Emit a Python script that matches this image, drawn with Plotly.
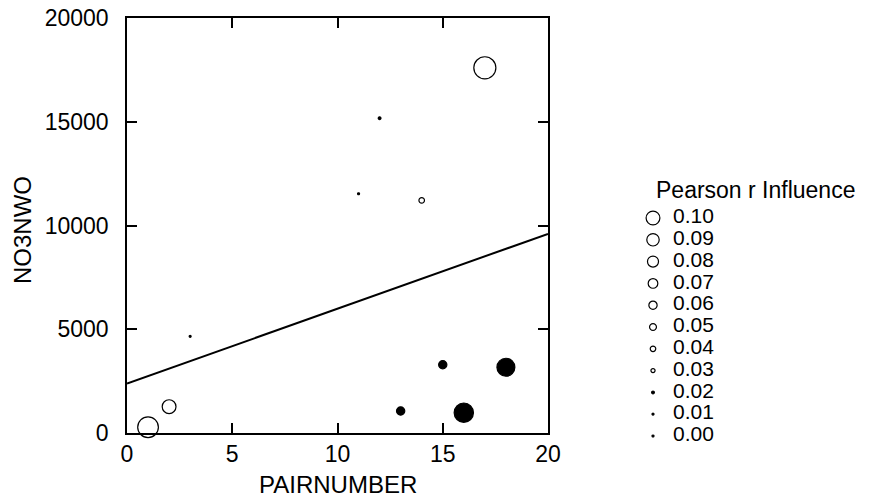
import numpy as np
import plotly.graph_objects as go

# Observations: pair number vs NO3NWO, with each point's influence on Pearson r
pair_number = [1, 2, 3, 11, 12, 13, 14, 15, 16, 17, 18]
no3nwo = [280, 1270, 4660, 11530, 15170, 1060, 11210, 3290, 980, 17600, 3170]
influence = [0.15, 0.10, -0.01, 0.01, 0.02, -0.06, 0.04, -0.06, -0.14, 0.16, -0.13]

# Legend scale for influence magnitude
legend_values = [0.10, 0.09, 0.08, 0.07, 0.06, 0.05, 0.04, 0.03, 0.02, 0.01, 0.00]

x_ticks = [0, 5, 10, 15, 20]
y_ticks = [0, 5000, 10000, 15000, 20000]

W, H = 873, 500
FONT = "Liberation Sans, Arial, sans-serif"
SCALE = 138.0  # marker diameter (px) per unit of |influence|


def marker_style(values):
    symbols, sizes = [], []
    for v in values:
        mag = abs(v)
        if mag < 0.025:
            symbols.append("circle")
        elif v > 0:
            symbols.append("circle-open")
        else:
            symbols.append("circle")
        sizes.append(max(SCALE * mag, 2.0))
    return symbols, sizes


pt_sym, pt_size = marker_style(influence)

# Least-squares line across the x range
slope, intercept = np.polyfit(pair_number, no3nwo, 1)
line_x = np.array([x_ticks[0], x_ticks[-1]], dtype=float)
line_y = intercept + slope * line_x

fig = go.Figure()

fig.add_trace(go.Scatter(
    x=line_x, y=line_y, mode="lines",
    line=dict(color="black", width=2), hoverinfo="skip", showlegend=False,
))
fig.add_trace(go.Scatter(
    x=pair_number, y=no3nwo, mode="markers",
    marker=dict(symbol=pt_sym, size=pt_size, color="black", opacity=1,
                line=dict(color="black", width=1.2)),
    cliponaxis=False, showlegend=False,
))

# Legend drawn on a pixel-scaled overlay axis
lg_sym, lg_size = marker_style(legend_values)
row0, step = 218.0, 21.8
lg_y = [row0 + i * step for i in range(len(legend_values))]
fig.add_trace(go.Scatter(
    x=[653] * len(legend_values), y=lg_y, mode="markers",
    marker=dict(symbol=lg_sym, size=lg_size, color="black", opacity=1,
                line=dict(color="black", width=1.2)),
    xaxis="x2", yaxis="y2", showlegend=False, hoverinfo="skip",
))
fig.add_trace(go.Scatter(
    x=[673] * len(legend_values), y=lg_y, mode="text",
    text=[f"{v:.2f}" for v in legend_values], textposition="middle right",
    textfont=dict(family=FONT, size=21, color="black"),
    xaxis="x2", yaxis="y2", showlegend=False, hoverinfo="skip",
))

x0_px, x1_px, ytop_px, ybot_px = 127, 548, 18, 433

axis_common = dict(
    showline=True, linecolor="black", linewidth=1.6, mirror="ticks",
    ticks="inside", ticklen=10, tickwidth=1.6, tickcolor="black",
    showgrid=False, zeroline=False, automargin=False, tickformat="d",
    tickfont=dict(family=FONT, size=23, color="black"),
)


def label(text, x_px, y_px, size, angle=0):
    return dict(text=text, x=x_px / W, y=1 - y_px / H, textangle=angle,
                xref="paper", yref="paper", xanchor="center", yanchor="middle",
                showarrow=False, font=dict(family=FONT, size=size, color="black"))


fig.update_layout(
    width=W, height=H,
    margin=dict(l=0, r=0, t=0, b=0, autoexpand=False),
    paper_bgcolor="white", plot_bgcolor="rgba(0,0,0,0)",
    xaxis=dict(domain=[x0_px / W, x1_px / W], range=[x_ticks[0], x_ticks[-1]],
               tickvals=x_ticks, ticklabelstandoff=0, **axis_common),
    yaxis=dict(domain=[1 - ybot_px / H, 1 - ytop_px / H], range=[y_ticks[0], y_ticks[-1]],
               tickvals=y_ticks, ticklabelstandoff=12, **axis_common),
    xaxis2=dict(domain=[0, 1], range=[0, W], visible=False, anchor="y2"),
    yaxis2=dict(domain=[0, 1], range=[H, 0], visible=False, anchor="x2"),
    annotations=[
        label("PAIRNUMBER", (x0_px + x1_px) / 2, 484, 24),
        label("NO3NWO", 23, 230, 24, angle=-90),
        label("Pearson r Influence", 755, 190, 23),
    ],
)

fig.write_html("out.html")
